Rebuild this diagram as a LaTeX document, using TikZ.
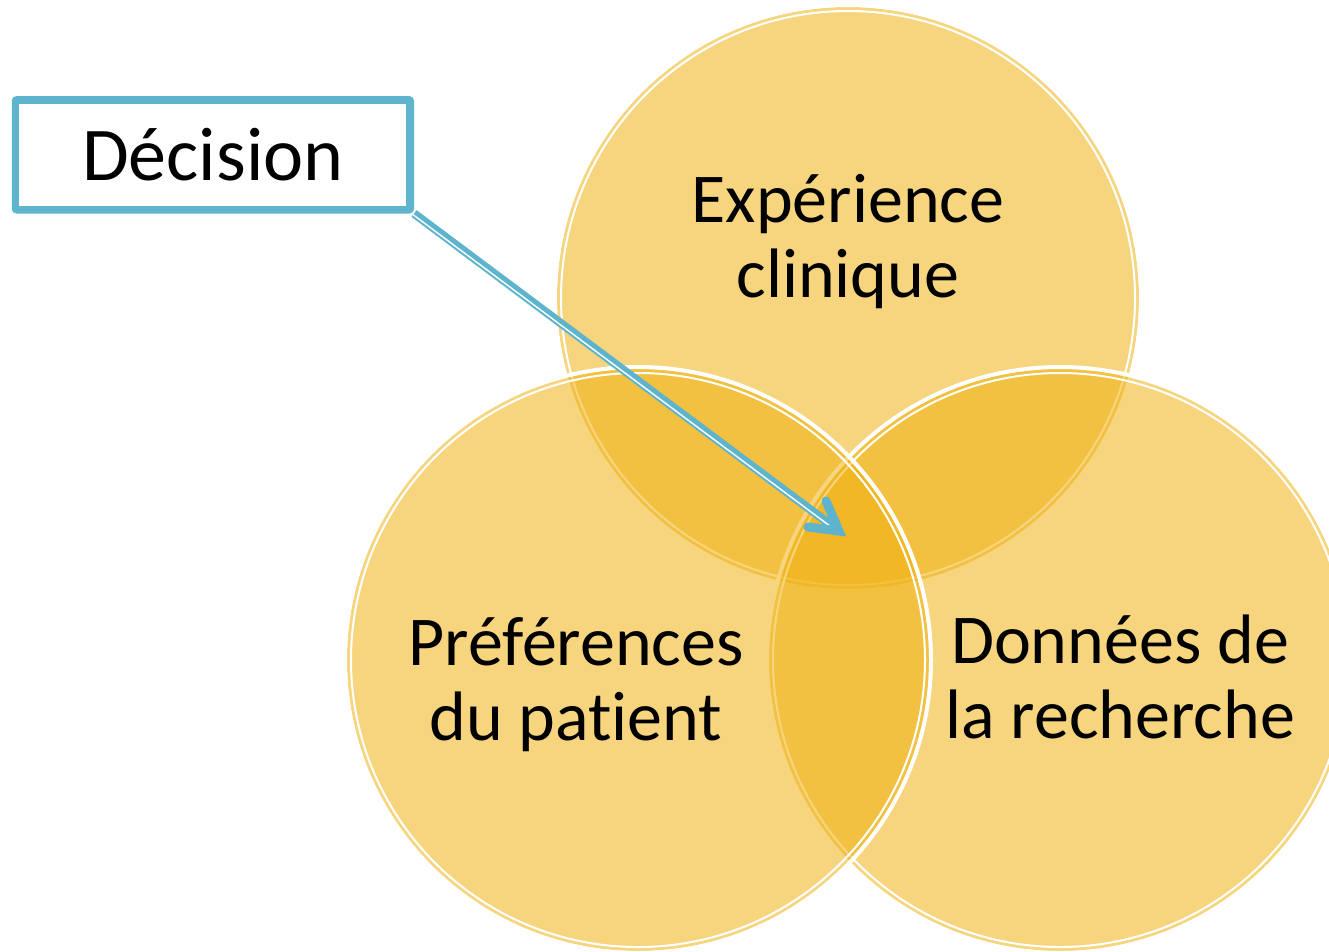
\documentclass[tikz,border=0pt]{standalone}
\usepackage{fontspec}
\setmainfont{Carlito}[Ligatures={NoCommon}]
\definecolor{gold}{HTML}{F0AF0A}
\definecolor{tealb}{HTML}{5EB4CC}
\tikzset{
  venn/.style={fill=gold, fill opacity=0.52},
  vennouter/.style={draw=white, line width=4pt},
  venninner/.style={draw=white, line width=2pt},
  lbl/.style={font=\fontsize{70}{75}\selectfont, align=center, inner sep=0pt, text=black},
  decbox/.style={draw=tealb, line width=6.5pt, rounded corners=2pt, fill=white,
    minimum width=395.8pt, minimum height=111pt, inner sep=0pt,
    font=\fontsize{76}{80}\selectfont},
  shaft/.style={draw=tealb, line width=8.5pt},
  shaftline/.style={draw=white, line width=1.4pt, transform canvas={shift={(-0.9pt,-1.2pt)}}},
  barb/.style={draw=tealb, line width=9pt, line cap=round, miter limit=10},
}
\begin{document}
\begin{tikzpicture}[x=1pt,y=-1pt]
\path[use as bounding box, fill=white] (0,0) rectangle (1329,951);
\coordinate (ct) at (848,298);
\coordinate (cr) at (1060,660);
\coordinate (cl) at (638,660);
\foreach \c in {ct,cr,cl}{
  \fill[venn] (\c) circle[radius=291pt];
  \draw[vennouter] (\c) circle[radius=293pt];
  \draw[venninner] (\c) circle[radius=287pt];
}
\node[lbl] (exp) at (848,242) {Expérience\\clinique};
\node[lbl] (pref) at (576,685) {Préférences\\du patient};
\node[lbl] (don) at (1120,677) {Données de\\la recherche};
\node[decbox] (dec) at (212.9,154.8) {Décision};
\draw[tealb, line width=1.6pt] ([shift={(6.8pt,-6.8pt)}]dec.north west) rectangle ([shift={(-6.8pt,6.8pt)}]dec.south east);
\coordinate (tip) at (839,531);
\coordinate (shaftend) at (833,526.5);
\coordinate (barb1) at (808,527);
\coordinate (barb2) at (826,501);
\draw[shaft] (dec.south east) -- (tip);
\draw[shaftline] (dec.south east) -- (shaftend);
\draw[barb] (barb1) -- (tip) -- (barb2);
\end{tikzpicture}
\end{document}
